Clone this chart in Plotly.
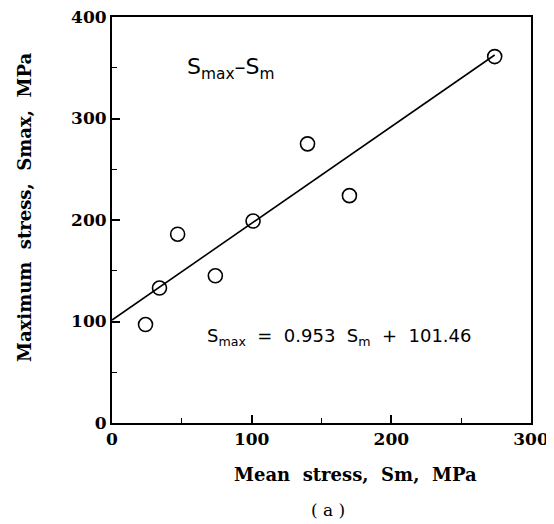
import plotly.graph_objects as go

mean_stress = [24, 34, 47, 74, 101, 140, 170, 274]
max_stress = [97, 133, 186, 145, 199, 275, 224, 361]

# Regression line Smax = 0.953 Sm + 101.46
slope = 0.953
intercept = 101.46
fit_x = [0, 274]
fit_y = [slope * v + intercept for v in fit_x]

x_title = "Mean  stress,  Sm,  MPa"
y_title = "Maximum  stress,  Smax,  MPa"

serif = "DejaVu Serif, Liberation Serif, serif"
sans = "DejaVu Sans, Liberation Sans, sans-serif"

fig = go.Figure()
fig.add_trace(go.Scatter(x=fit_x, y=fit_y, mode="lines",
                         line=dict(color="black", width=1.6), showlegend=False))
fig.add_trace(go.Scatter(x=mean_stress, y=max_stress, mode="markers",
                         marker=dict(symbol="circle-open", size=14, color="black",
                                     line=dict(width=1.6)),
                         showlegend=False))

axis_common = dict(
    showgrid=False, zeroline=False, showline=True, linecolor="black", linewidth=2,
    mirror=True, ticks="inside", ticklen=8, tickwidth=1.5, tickcolor="black",
    automargin=False, ticklabeloverflow="allow",
    tickfont=dict(family=serif, size=17, color="black", weight="bold"),
    minor=dict(ticks="inside", ticklen=5, tickwidth=1.2, tickcolor="black", dtick=50),
)

title_font = dict(family=serif, size=18, color="black", weight="bold")

fig.update_layout(
    width=554, height=524,
    paper_bgcolor="white", plot_bgcolor="white",
    margin=dict(l=104, r=31, t=9, b=109),
    xaxis=dict(range=[0, 300], dtick=100, tick0=0, **axis_common),
    yaxis=dict(range=[0, 400], dtick=100, tick0=0, **axis_common),
    annotations=[
        dict(x=0.582, y=-0.128, xref="paper", yref="paper", xanchor="center", yanchor="middle",
             text=x_title, showarrow=False, font=title_font),
        dict(x=-0.21, y=0.532, xref="paper", yref="paper", xanchor="center", yanchor="middle",
             text=y_title, textangle=-90, showarrow=False, font=title_font),
        dict(x=0.282, y=0.874, xref="paper", yref="paper", xanchor="center", yanchor="middle",
             text="S<sub>max</sub>–S<sub>m</sub>", showarrow=False,
             font=dict(family=sans, size=22, color="black")),
        dict(x=0.544, y=0.212, xref="paper", yref="paper", xanchor="center", yanchor="middle",
             text="S<sub>max</sub>  =  0.953  S<sub>m</sub>  +  101.46", showarrow=False,
             font=dict(family=sans, size=18, color="black")),
        dict(x=0.516, y=-0.214, xref="paper", yref="paper", xanchor="center", yanchor="middle",
             text="( a )", showarrow=False,
             font=dict(family=serif, size=17, color="black")),
    ],
)

fig.write_html("out.html")
